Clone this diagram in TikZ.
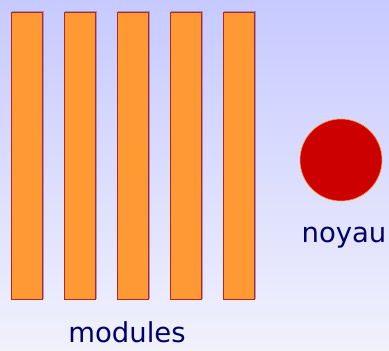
\documentclass[tikz,border=0pt]{standalone}
\usepackage{xcolor}
\usepackage{fontspec}
\setmainfont{DejaVu Sans}
\usepackage{tikz}
\usetikzlibrary{shapes,arrows,positioning}

\definecolor{bgtop}{RGB}{198,202,255}
\definecolor{bgbottom}{RGB}{241,241,252}
\definecolor{modorange}{RGB}{255,153,51}
\definecolor{modborder}{RGB}{170,40,40}
\definecolor{modshadow}{RGB}{150,110,190}
\definecolor{noyaured}{RGB}{204,0,0}
\definecolor{labelblue}{RGB}{0,0,102}

\begin{document}
\begin{tikzpicture}[x=1pt,y=1pt,
    module/.style={line width=1pt, draw=modborder, fill=modorange},
    modshade/.style={line width=1pt, draw=modshadow, opacity=0.7},
    label/.style={text=labelblue, anchor=base, inner sep=0pt,
        font=\fontsize{27.5}{32}\selectfont}]

                \shade[top color=bgtop, bottom color=bgbottom]
                    (0,0) rectangle (389,351);

                \draw[modshade] (12,52) rectangle (43,339);
                \draw[module] (11,51) rectangle (42,338);

                \draw[modshade] (65,52) rectangle (96,339);
                \draw[module] (64,51) rectangle (95,338);

                \draw[modshade] (118,52) rectangle (149,339);
                \draw[module] (117,51) rectangle (148,338);

                \draw[modshade] (171,52) rectangle (202,339);
                \draw[module] (170,51) rectangle (201,338);

                \draw[modshade] (224,52) rectangle (255,339);
                \draw[module] (223,51) rectangle (254,338);

                \node[
                    circle,
                    minimum size=82pt,
                    inner sep=0pt,
                    line width=0.6pt,
                    draw=modorange,
                    fill=noyaured
                    ] (noyau) at (341,191) {};

                \node[label] (noyaulabel) at (344,108) {noyau};
                \node[label] (moduleslabel) at (127,8) {modules};
\end{tikzpicture}
\end{document}
